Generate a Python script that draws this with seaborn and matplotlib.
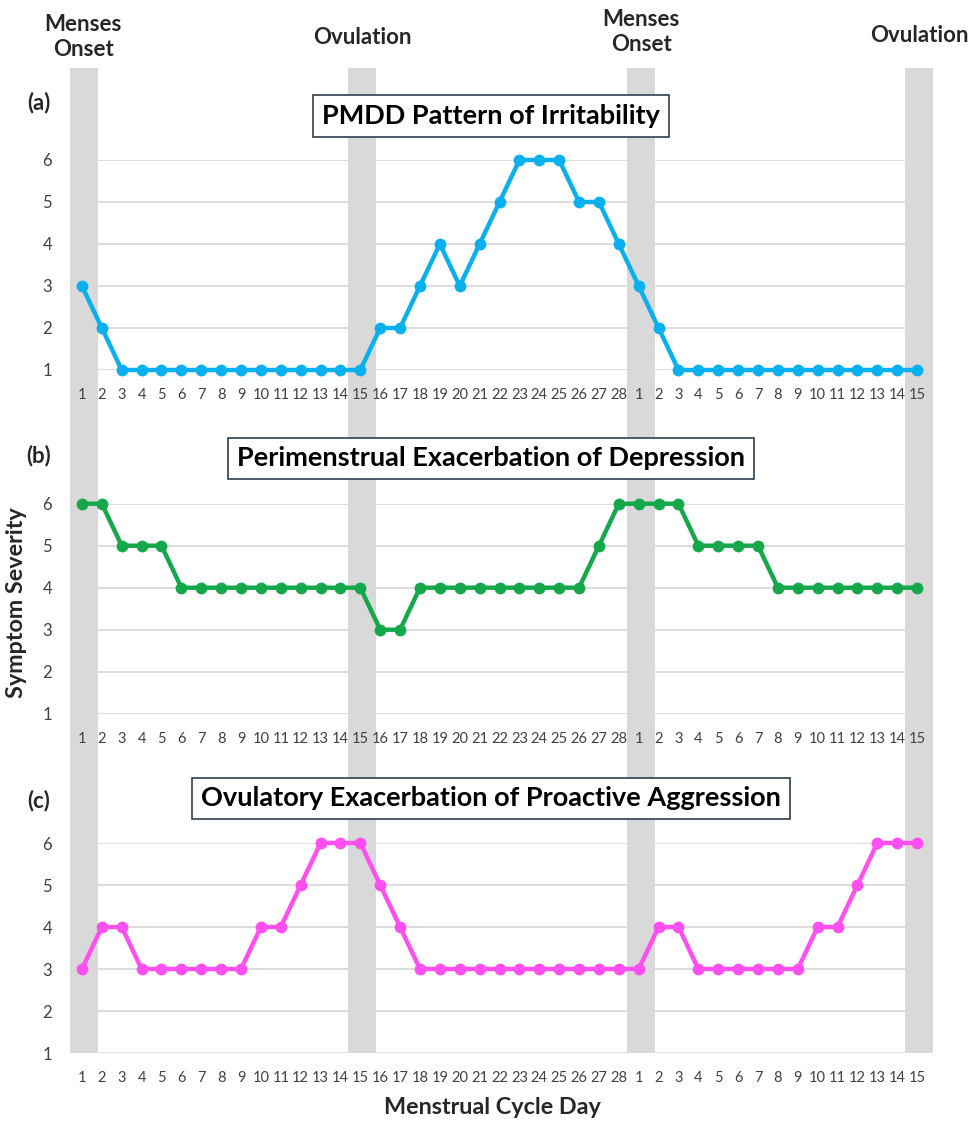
import matplotlib
matplotlib.use("Agg")
import matplotlib.pyplot as plt
import matplotlib.transforms as mtransforms
from matplotlib.patches import Rectangle
import numpy as np
import pandas as pd
import seaborn as sns

# cycle days shown on the x axis (28-day cycle, then the first 15 days of the next)
days = list(range(1, 29)) + list(range(1, 16))
pos = list(range(1, len(days) + 1))

# symptom severity per day
irritability = [3, 2, 1, 1, 1, 1, 1, 1, 1, 1, 1, 1, 1, 1, 1,
                2, 2, 3, 4, 3, 4, 5, 6, 6, 6, 5, 5, 4,
                3, 2, 1, 1, 1, 1, 1, 1, 1, 1, 1, 1, 1, 1, 1]
depression = [6, 6, 5, 5, 5, 4, 4, 4, 4, 4, 4, 4, 4, 4, 4,
              3, 3, 4, 4, 4, 4, 4, 4, 4, 4, 4, 5, 6,
              6, 6, 6, 5, 5, 5, 5, 4, 4, 4, 4, 4, 4, 4, 4]
aggression = [3, 4, 4, 3, 3, 3, 3, 3, 3, 4, 4, 5, 6, 6, 6,
              5, 4, 3, 3, 3, 3, 3, 3, 3, 3, 3, 3, 3,
              3, 4, 4, 3, 3, 3, 3, 3, 3, 4, 4, 5, 6, 6, 6]

titles = ["PMDD Pattern of Irritability",
          "Perimenstrual Exacerbation of Depression",
          "Ovulatory Exacerbation of Proactive Aggression"]
letters = ["(a)", "(b)", "(c)"]
colors = ["#08b0ee", "#14a84a", "#ff4ff0"]

# shaded days: menses onset and ovulation
band_pos = [1, 15, 29, 43]
band_labels = ["Menses\nOnset", "Ovulation", "Menses\nOnset", "Ovulation"]

sns.set_style("white")
plt.rcParams['font.family'] = ['Lato', 'DejaVu Sans']

W, H = 976, 1124
fig = plt.figure(figsize=(W / 100, H / 100), dpi=100)

def fy(px):
    return 1 - px / H

left = 70 / W
width = 863 / W
xlim = (0.4, 43.8)
# (top px of y=6, bottom px of y=1, box centre y, letter y)
panels = [(160, 370, 116, 103), (503.7, 713.7, 458.5, 456), (843, 1053, 798.5, 801)]
series = [irritability, depression, aggression]

axes = []
for i, (top, bot, ty, ly) in enumerate(panels):
    rect = [left, fy(bot), width, (bot - top) / H]
    # grid layer behind the bands
    gax = fig.add_axes(rect, zorder=-2)
    gax.set_xlim(xlim)
    gax.set_ylim(1, 6)
    gax.hlines(range(1, 7), xlim[0], xlim[1], color="#d9d9d9", lw=1.3)
    gax.axis("off")

    ax = fig.add_axes(rect, zorder=0)
    ax.patch.set_alpha(0)
    df = pd.DataFrame({"pos": pos, "severity": series[i]})
    sns.lineplot(data=df, x="pos", y="severity", ax=ax, color=colors[i],
                 lw=3.2, marker="o", markersize=8.5, markeredgewidth=0,
                 clip_on=False)
    ax.set_xlim(xlim)
    ax.set_ylim(1, 6)
    ax.set_xticks(pos)
    ax.set_xticklabels(days, fontsize=10.5, color="#404040")
    ax.set_yticks(range(1, 7))
    ax.set_yticklabels(range(1, 7), fontsize=12, color="#404040")
    ax.tick_params(axis="x", length=0, pad=13)
    ax.tick_params(axis="y", length=0, pad=13)
    ax.set_xlabel("")
    ax.set_ylabel("")
    for s in ax.spines.values():
        s.set_visible(False)
    axes.append(ax)

    fig.text(491 / W, fy(ty), titles[i], ha="center", va="center",
             fontsize=19.5, fontweight="bold", color="black",
             bbox=dict(boxstyle="square,pad=0.32", fc="white", ec="#2f3f4f", lw=1.2))
    fig.text(39 / W, fy(ly), letters[i], ha="center", va="center",
             fontsize=16, fontweight="bold")

# gray bands running through all three panels
trans = mtransforms.blended_transform_factory(axes[0].transData, fig.transFigure)
for p in band_pos:
    fig.add_artist(Rectangle((p - 0.6, fy(1053)), 1.4, fy(68) - fy(1053),
                             transform=trans, fc="#d9d9d9", ec="none", zorder=-1))

label_xy = [(83, 37), (362, 38), (641, 32), (919, 36)]
for (x, y), lab in zip(label_xy, band_labels):
    fig.text(x / W, fy(y), lab, ha="center", va="center", fontsize=16,
             fontweight="bold", linespacing=1.2)

fig.text(17 / W, fy(603), "Symptom Severity", rotation=90, ha="center",
         va="center", fontsize=16.8, fontweight="bold")
fig.text(492 / W, fy(1108), "Menstrual Cycle Day", ha="center", va="center",
         fontsize=16.8, fontweight="bold")

fig.savefig("out.png", dpi=100, facecolor="white")
